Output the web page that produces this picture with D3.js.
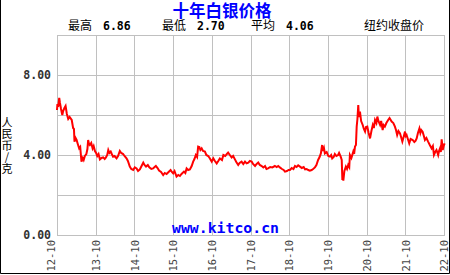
<!DOCTYPE html>
<html>
<head>
<meta charset="utf-8">
<script src="https://cdn.jsdelivr.net/npm/d3@7"></script>
<style>
  body { margin: 0; background: #fff; }
  svg { display: block; }
</style>
</head>
<body>
<svg id="chart" width="450" height="275"></svg>
<script>
// silver close, RMB per gram
const priceRows = [
  ["2012-10-01",6.25],["2012-10-05",6.55],["2012-10-12",6.40],["2012-10-22",6.86],["2012-10-29",6.60],
  ["2012-11-08",6.30],["2012-11-20",6.00],["2012-11-28",6.20],["2012-12-10",6.35],["2012-12-21",6.45],
  ["2013-01-02",6.05],["2013-01-15",5.80],["2013-01-28",5.90],["2013-02-17",5.75],["2013-03-02",5.35],
  ["2013-03-10",5.30],["2013-03-15",4.67],["2013-03-25",4.85],["2013-04-04",4.75],["2013-04-15",4.55],
  ["2013-04-28",4.33],["2013-05-08",4.40],["2013-05-20",3.67],["2013-06-01",3.85],["2013-06-10",3.75],
  ["2013-06-21",3.95],["2013-07-05",4.05],["2013-07-15",4.30],["2013-07-22",4.75],["2013-07-30",4.55],
  ["2013-08-07",4.50],["2013-08-20",4.60],["2013-09-02",4.33],["2013-09-12",4.45],["2013-09-24",4.20],
  ["2013-10-05",4.10],["2013-10-16",3.95],["2013-10-28",4.05],["2013-11-10",3.78],["2013-11-25",3.85],
  ["2013-12-11",3.88],["2013-12-25",3.80],["2014-01-06",3.88],["2014-01-18",4.00],["2014-01-28",4.25],
  ["2014-02-08",4.10],["2014-02-20",4.17],["2014-03-02",4.05],["2014-03-14",3.92],["2014-03-28",3.95],
  ["2014-04-16",3.83],["2014-04-30",3.95],["2014-05-17",4.20],["2014-05-30",4.10],["2014-06-17",4.05],
  ["2014-06-30",3.95],["2014-07-19",3.83],["2014-08-01",3.70],["2014-08-19",3.42],["2014-09-02",3.30],
  ["2014-09-20",3.25],["2014-10-05",3.38],["2014-10-22",3.33],["2014-11-05",3.20],["2014-11-22",3.28],
  ["2014-12-08",3.45],["2014-12-24",3.62],["2015-01-05",3.50],["2015-01-19",3.42],["2015-02-05",3.50],
  ["2015-02-19",3.38],["2015-03-10",3.30],["2015-03-27",3.33],["2015-04-10",3.40],["2015-04-22",3.45],
  ["2015-05-08",3.35],["2015-05-22",3.22],["2015-06-10",3.15],["2015-06-30",3.00],["2015-07-15",3.10],
  ["2015-08-01",3.05],["2015-08-20",3.15],["2015-09-08",3.25],["2015-09-20",3.15],["2015-10-02",3.08],
  ["2015-10-15",3.20],["2015-11-03",2.92],["2015-11-20",3.00],["2015-12-05",2.95],["2015-12-20",3.05],
  ["2016-01-12",3.17],["2016-01-25",3.10],["2016-02-06",3.33],["2016-02-20",3.25],["2016-03-08",3.28],
  ["2016-03-25",3.45],["2016-04-08",3.67],["2016-04-20",3.80],["2016-05-03",4.00],["2016-05-15",3.90],
  ["2016-05-25",4.42],["2016-06-05",4.40],["2016-06-15",4.25],["2016-06-27",4.33],["2016-07-10",4.20],
  ["2016-07-28",4.17],["2016-08-10",4.00],["2016-08-28",3.95],["2016-09-10",3.85],["2016-09-30",3.67],
  ["2016-10-15",3.83],["2016-10-30",3.70],["2016-11-16",3.58],["2016-12-01",3.70],["2016-12-16",3.83],
  ["2017-01-05",3.75],["2017-01-18",4.00],["2017-02-05",3.95],["2017-02-20",4.05],["2017-03-04",4.12],
  ["2017-03-20",4.00],["2017-04-06",3.88],["2017-04-20",3.95],["2017-05-07",3.78],["2017-05-20",3.65],
  ["2017-06-07",3.50],["2017-06-20",3.60],["2017-07-09",3.67],["2017-07-25",3.55],["2017-08-10",3.67],
  ["2017-08-25",3.58],["2017-09-10",3.62],["2017-09-25",3.70],["2017-10-12",3.67],["2017-10-25",3.55],
  ["2017-11-13",3.45],["2017-11-28",3.55],["2017-12-13",3.62],["2017-12-28",3.50],["2018-01-15",3.45],
  ["2018-01-30",3.38],["2018-02-15",3.45],["2018-03-01",3.30],["2018-03-16",3.33],["2018-04-05",3.40],
  ["2018-04-25",3.38],["2018-05-19",3.45],["2018-06-05",3.40],["2018-06-20",3.45],["2018-07-05",3.38],
  ["2018-07-25",3.30],["2018-08-10",3.25],["2018-08-22",3.17],["2018-09-10",3.20],["2018-09-25",3.25],
  ["2018-10-08",3.25],["2018-10-25",3.35],["2018-11-10",3.30],["2018-11-25",3.45],["2018-12-10",3.40],
  ["2018-12-25",3.48],["2019-01-11",3.42],["2019-01-28",3.35],["2019-02-15",3.40],["2019-02-28",3.28],
  ["2019-03-15",3.30],["2019-03-30",3.25],["2019-04-14",3.22],["2019-05-01",3.25],["2019-05-15",3.30],
  ["2019-06-01",3.38],["2019-06-15",3.50],["2019-07-01",3.75],["2019-07-15",3.90],["2019-07-27",4.08],
  ["2019-08-01",4.25],["2019-08-08",4.50],["2019-08-15",4.20],["2019-08-25",4.35],["2019-09-03",4.08],
  ["2019-09-20",4.15],["2019-10-05",3.95],["2019-10-20",3.92],["2019-11-01",4.00],["2019-11-11",3.83],
  ["2019-11-25",3.90],["2019-12-06",4.05],["2019-12-20",3.95],["2020-01-06",4.00],["2020-01-15",4.10],
  ["2020-01-30",3.92],["2020-02-09",3.75],["2020-02-15",2.75],["2020-02-20",3.00],["2020-02-24",2.72],
  ["2020-03-05",3.20],["2020-03-19",3.42],["2020-03-30",3.30],["2020-04-10",3.50],["2020-04-20",3.40],
  ["2020-04-26",4.00],["2020-05-10",3.85],["2020-05-28",4.17],["2020-06-05",4.05],["2020-06-13",4.42],
  ["2020-06-22",4.50],["2020-06-29",5.42],["2020-07-06",5.80],["2020-07-14",6.50],["2020-07-20",5.90],
  ["2020-07-30",6.17],["2020-08-10",5.70],["2020-08-25",5.50],["2020-09-05",5.30],["2020-09-16",5.17],
  ["2020-09-25",5.40],["2020-10-07",5.42],["2020-10-20",5.10],["2020-11-02",4.83],["2020-11-15",5.20],
  ["2020-11-28",5.50],["2020-12-08",5.35],["2020-12-19",5.75],["2021-01-01",5.60],["2021-01-10",5.92],
  ["2021-01-20",5.70],["2021-02-05",5.50],["2021-02-15",5.70],["2021-03-01",5.25],["2021-03-10",5.50],
  ["2021-03-22",5.42],["2021-04-05",5.60],["2021-04-22",5.75],["2021-05-05",5.85],["2021-05-25",5.67],
  ["2021-06-10",5.60],["2021-06-25",5.42],["2021-07-05",5.25],["2021-07-16",5.00],["2021-07-28",5.20],
  ["2021-08-12",5.08],["2021-08-22",4.90],["2021-09-03",4.67],["2021-09-15",4.90],["2021-09-28",5.17],
  ["2021-10-05",4.95],["2021-10-13",5.00],["2021-10-25",4.80],["2021-11-07",4.58],["2021-11-20",4.80],
  ["2021-12-10",4.75],["2021-12-25",4.65],["2022-01-05",4.70],["2022-01-16",4.83],["2022-01-28",5.10],
  ["2022-02-11",5.33],["2022-02-20",5.10],["2022-03-01",5.25],["2022-03-13",5.17],["2022-03-25",4.95],
  ["2022-04-04",4.75],["2022-04-18",4.85],["2022-05-04",4.67],["2022-05-20",4.50],["2022-06-06",4.33],
  ["2022-06-18",4.45],["2022-06-28",4.00],["2022-07-10",4.15],["2022-07-22",4.25],["2022-08-01",4.10],
  ["2022-08-07",4.00],["2022-08-15",4.20],["2022-08-24",4.33],["2022-09-01",4.15],["2022-09-09",4.78],
  ["2022-09-15",4.50],["2022-09-19",4.25],["2022-09-28",4.45],["2022-10-07",4.58]
];
const xTickDates = ["2012-10-01","2013-10-01","2014-10-01","2015-10-01","2016-10-01",
  "2017-10-01","2018-10-01","2019-10-01","2020-10-01","2021-10-01","2022-10-01"];
const yTicks = [0, 2, 4, 6, 8, 10];
const yLabelled = [0, 4, 8];

const title = "十年白银价格";
const statLabels = ["最高", "最低", "平均"];
const statValues = ["6.86", "2.70", "4.06"];
const note = "纽约收盘价";
const unitLabel = "人民币/克";

const parse = d3.timeParse("%Y-%m-%d");
const series = priceRows.map(([d, v]) => ({ date: parse(d), value: v }));

const LEFT = 57, RIGHT = 444, TOP = 35, BOTTOM = 235;

const svg = d3.select("#chart");

const x = d3.scaleTime()
  .domain([parse(xTickDates[0]), parse(xTickDates[xTickDates.length - 1])])
  .range([LEFT, RIGHT]);
const y = d3.scaleLinear().domain([0, 10]).range([BOTTOM, TOP]);

// outer frame (left, right, bottom)
svg.append("path")
  .attr("d", "M0.5,0V273.5H449.5V0")
  .attr("fill", "none")
  .attr("stroke", "#000");

// y grid + labels
const yAxis = svg.append("g")
  .attr("transform", `translate(${LEFT},0)`)
  .call(d3.axisLeft(y).tickValues(yTicks).tickSize(-(RIGHT - LEFT)).tickPadding(6)
    .tickFormat(d => yLabelled.includes(d) ? d3.format(".2f")(d) : ""));
yAxis.select(".domain").remove();
yAxis.selectAll("line").attr("stroke", "#c0c0c0").attr("shape-rendering", "crispEdges");
yAxis.selectAll("text")
  .attr("fill", "#333")
  .attr("font-family", "DejaVu Sans Mono")
  .attr("font-weight", "bold")
  .attr("font-size", 11.5);

// x grid + rotated labels
const xAxis = svg.append("g")
  .attr("transform", `translate(0,${BOTTOM})`)
  .call(d3.axisBottom(x).tickValues(xTickDates.map(parse)).tickSize(-(BOTTOM - TOP))
    .tickFormat(d3.timeFormat("%y-%m")));
xAxis.select(".domain").remove();
xAxis.selectAll("line").attr("stroke", "#c0c0c0").attr("shape-rendering", "crispEdges");
xAxis.selectAll("text")
  .attr("transform", "rotate(-90)")
  .attr("text-anchor", "end")
  .attr("x", -5)
  .attr("y", (d, i) => i === 0 ? -6 : 0)
  .attr("dy", "0.35em")
  .attr("fill", "#444")
  .attr("font-family", "DejaVu Sans Mono")
  .attr("font-size", 10.5);

// plot frame
svg.append("rect")
  .attr("x", LEFT + 0.5).attr("y", TOP + 0.5)
  .attr("width", RIGHT - LEFT).attr("height", BOTTOM - TOP)
  .attr("fill", "none").attr("stroke", "#c0c0c0");

// watermark
svg.append("text")
  .attr("x", 172).attr("y", 233)
  .attr("fill", "#0000ff")
  .attr("font-family", "DejaVu Sans Mono")
  .attr("font-weight", "bold")
  .attr("font-size", 14.8)
  .attr("textLength", 107)
  .text("www.kitco.cn");

// price line
svg.append("path")
  .datum(series)
  .attr("fill", "none")
  .attr("stroke", "#ff0000")
  .attr("stroke-width", 2)
  .attr("stroke-linejoin", "miter")
  .attr("d", d3.line().x(d => x(d.date)).y(d => y(d.value)));

// header
svg.append("text")
  .attr("x", 222).attr("y", 17)
  .attr("text-anchor", "middle")
  .attr("fill", "#0000ff")
  .attr("font-family", "Noto Sans CJK SC")
  .attr("font-weight", "bold")
  .attr("font-size", 16.5)
  .text(title);

const statX = [68, 162, 251];
statLabels.forEach((s, i) => {
  svg.append("text")
    .attr("x", statX[i]).attr("y", 30)
    .attr("font-family", "Noto Sans CJK SC")
    .attr("font-size", 12)
    .attr("fill", "#000")
    .text(s);
  svg.append("text")
    .attr("x", statX[i] + 35).attr("y", 30)
    .attr("font-family", "DejaVu Sans Mono")
    .attr("font-weight", "bold")
    .attr("font-size", 11.5)
    .attr("fill", "#000")
    .text(statValues[i]);
});
svg.append("text")
  .attr("x", 364).attr("y", 30)
  .attr("font-family", "Noto Sans CJK SC")
  .attr("font-size", 12)
  .attr("fill", "#000")
  .text(note);

// vertical unit label
svg.append("text")
  .attr("x", 7).attr("y", 117)
  .style("writing-mode", "vertical-rl")
  .style("text-orientation", "upright")
  .style("letter-spacing", "0.5px")
  .attr("font-family", "Noto Sans CJK SC")
  .attr("font-size", 11)
  .attr("fill", "#000")
  .text(unitLabel);
</script>
</body>
</html>
